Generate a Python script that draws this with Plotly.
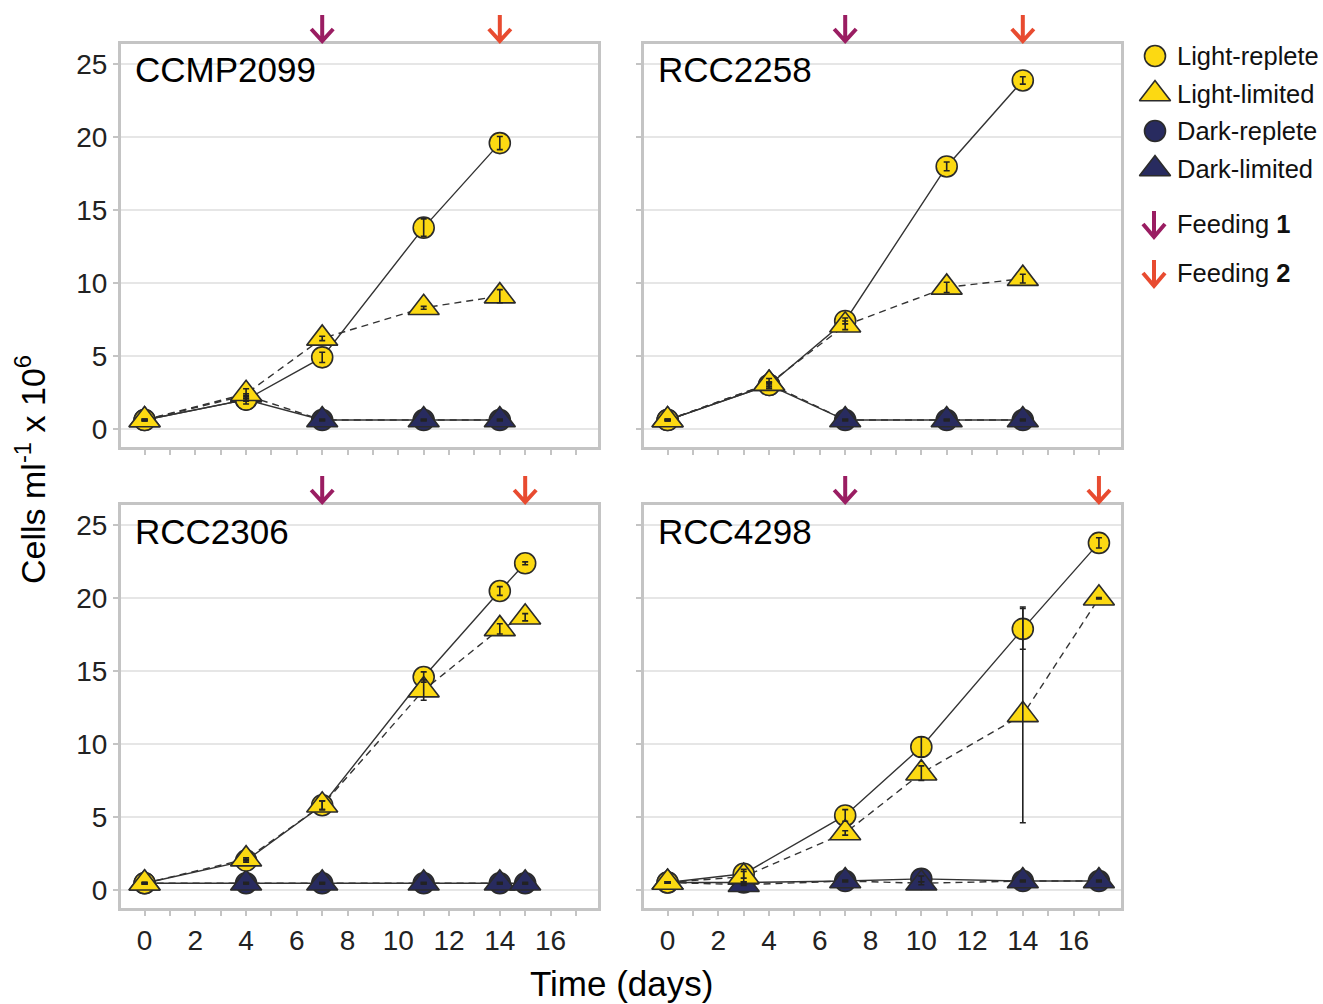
import plotly.graph_objects as go

W, H = 1323, 1004

# ---------------- data ----------------
panel_names = ["CCMP2099", "RCC2258", "RCC2306", "RCC4298"]

days_ccmp2099 = [0, 4, 7, 11, 14]
lr_ccmp2099 = [0.6, 2.0, 4.9, 13.8, 19.6]
lr_err_ccmp2099 = [0.05, 0.3, 0.35, 0.6, 0.45]
ll_ccmp2099 = [0.6, 2.4, 6.2, 8.3, 9.1]
ll_err_ccmp2099 = [0.05, 0.35, 0.15, 0.1, 0.45]
dr_ccmp2099 = [0.6, 2.0, 0.6, 0.6, 0.6]
dr_err_ccmp2099 = [0.05, 0.1, 0.05, 0.05, 0.05]
dl_ccmp2099 = [0.6, 2.3, 0.6, 0.6, 0.6]
dl_err_ccmp2099 = [0.05, 0.1, 0.05, 0.05, 0.05]

days_rcc2258 = [0, 4, 7, 11, 14]
lr_rcc2258 = [0.6, 3.0, 7.4, 18.0, 23.9]
lr_err_rcc2258 = [0.05, 0.2, 0.2, 0.3, 0.25]
ll_rcc2258 = [0.6, 3.1, 7.1, 9.7, 10.3]
ll_err_rcc2258 = [0.05, 0.35, 0.3, 0.35, 0.3]
dr_rcc2258 = [0.6, 3.0, 0.6, 0.6, 0.6]
dr_err_rcc2258 = [0.05, 0.1, 0.05, 0.05, 0.05]
dl_rcc2258 = [0.6, 3.1, 0.6, 0.6, 0.6]
dl_err_rcc2258 = [0.05, 0.1, 0.05, 0.05, 0.05]

days_rcc2306 = [0, 4, 7, 11, 14, 15]
lr_rcc2306 = [0.45, 2.0, 5.8, 14.6, 20.5, 22.4]
lr_err_rcc2306 = [0.05, 0.1, 0.3, 0.35, 0.3, 0.1]
ll_rcc2306 = [0.45, 2.1, 5.8, 13.7, 17.9, 18.7]
ll_err_rcc2306 = [0.05, 0.1, 0.3, 0.7, 0.35, 0.25]
dr_rcc2306 = [0.45, 0.45, 0.45, 0.45, 0.45, 0.45]
dr_err_rcc2306 = [0.05, 0.05, 0.05, 0.05, 0.05, 0.05]
dl_rcc2306 = [0.45, 0.45, 0.45, 0.45, 0.45, 0.45]
dl_err_rcc2306 = [0.05, 0.05, 0.05, 0.05, 0.05, 0.05]

days_rcc4298 = [0, 3, 7, 10, 14, 17]
lr_rcc4298 = [0.5, 1.1, 5.1, 9.8, 17.9, 23.8]
lr_err_rcc4298 = [0.05, 0.3, 0.4, 0.7, 1.4, 0.35]
ll_rcc4298 = [0.5, 0.9, 3.9, 8.0, 12.0, 20.0]
ll_err_rcc4298 = [0.05, 0.35, 0.15, 0.5, 7.4, 0.05]
dr_rcc4298 = [0.5, 0.5, 0.6, 0.75, 0.6, 0.6]
dr_err_rcc4298 = [0.05, 0.05, 0.05, 0.2, 0.05, 0.05]
dl_rcc4298 = [0.5, 0.35, 0.6, 0.45, 0.6, 0.6]
dl_err_rcc4298 = [0.05, 0.05, 0.05, 0.1, 0.05, 0.05]

feeding1_days = [7, 7, 7, 7]
feeding2_days = [14, 14, 15, 17]

x_tick_vals = [0, 2, 4, 6, 8, 10, 12, 14, 16]
y_tick_vals = [0, 5, 10, 15, 20, 25]

series_names = ["Dark-replete", "Dark-limited", "Light-replete", "Light-limited"]
legend_order = ["Light-replete", "Light-limited", "Dark-replete", "Dark-limited"]

# ---------------- styles ----------------
YELLOW = "#FCD912"
NAVY = "#282B5F"
PURPLE = "#9A1D62"
RED = "#E84B30"
EDGE = "#2b2b2b"
FONT = "Liberation Sans, Arial, sans-serif"

style = {
    "Light-replete": dict(color=YELLOW, symbol="circle", size=21, dash="solid"),
    "Light-limited": dict(color=YELLOW, symbol="triangle-up", size=27, dash="7px,5px"),
    "Dark-replete": dict(color=NAVY, symbol="circle", size=21, dash="solid"),
    "Dark-limited": dict(color=NAVY, symbol="triangle-up", size=27, dash="7px,5px"),
}

panel_data = [
    dict(days=days_ccmp2099, vals={"Light-replete": (lr_ccmp2099, lr_err_ccmp2099),
                                   "Light-limited": (ll_ccmp2099, ll_err_ccmp2099),
                                   "Dark-replete": (dr_ccmp2099, dr_err_ccmp2099),
                                   "Dark-limited": (dl_ccmp2099, dl_err_ccmp2099)}),
    dict(days=days_rcc2258, vals={"Light-replete": (lr_rcc2258, lr_err_rcc2258),
                                  "Light-limited": (ll_rcc2258, ll_err_rcc2258),
                                  "Dark-replete": (dr_rcc2258, dr_err_rcc2258),
                                  "Dark-limited": (dl_rcc2258, dl_err_rcc2258)}),
    dict(days=days_rcc2306, vals={"Light-replete": (lr_rcc2306, lr_err_rcc2306),
                                  "Light-limited": (ll_rcc2306, ll_err_rcc2306),
                                  "Dark-replete": (dr_rcc2306, dr_err_rcc2306),
                                  "Dark-limited": (dl_rcc2306, dl_err_rcc2306)}),
    dict(days=days_rcc4298, vals={"Light-replete": (lr_rcc4298, lr_err_rcc4298),
                                  "Light-limited": (ll_rcc4298, ll_err_rcc4298),
                                  "Dark-replete": (dr_rcc4298, dr_err_rcc4298),
                                  "Dark-limited": (dl_rcc4298, dl_err_rcc4298)}),
]

# panel frames in pixels: left, right, top, bottom
panel_box = [(121, 598, 44, 447), (644, 1121, 44, 447),
             (121, 598, 505, 908), (644, 1121, 505, 908)]

fig = go.Figure()
layout = dict(
    width=W, height=H, margin=dict(l=0, r=0, t=0, b=0),
    paper_bgcolor="white", plot_bgcolor="white", showlegend=False,
    font=dict(family=FONT, color="#222"),
)
annotations = []
shapes = []

for i, pdata in enumerate(panel_data):
    sfx = "" if i == 0 else str(i + 1)
    xa, ya = "x" + sfx, "y" + sfx
    l, r, t, b = panel_box[i]
    layout["xaxis" + sfx] = dict(
        domain=[l / W, r / W], anchor=ya, range=[-0.93, 17.87],
        tickvals=x_tick_vals, ticks="outside", ticklen=5,
        tickwidth=2, tickcolor="#c4c4c4", showticklabels=(i >= 2),
        minor=dict(dtick=1, tick0=0, ticks="outside", ticklen=5, tickwidth=2,
                   tickcolor="#c4c4c4", showgrid=False),
        tickfont=dict(size=28, color="#222"), showgrid=False, zeroline=False,
        showline=True, linecolor="#c4c4c4", linewidth=3, mirror=True, fixedrange=True,
    )
    layout["yaxis" + sfx] = dict(
        domain=[1 - b / H, 1 - t / H], anchor=xa, range=[-1.25, 26.4],
        tickvals=y_tick_vals, ticks="outside", ticklen=5, tickwidth=2,
        tickcolor="#c4c4c4", showticklabels=(i % 2 == 0),
        tickfont=dict(size=28, color="#222"), showgrid=True, gridcolor="#e6e6e6",
        gridwidth=2, zeroline=False, showline=True, linecolor="#c4c4c4",
        linewidth=3, mirror=True, fixedrange=True,
    )
    days = pdata["days"]
    # lines first
    for s in series_names:
        vals, _ = pdata["vals"][s]
        fig.add_trace(go.Scatter(
            x=days, y=vals, mode="lines", xaxis=xa, yaxis=ya, hoverinfo="skip",
            line=dict(color="#333333", width=1.4, dash=style[s]["dash"]),
        ))
    # markers
    for s in series_names:
        vals, _ = pdata["vals"][s]
        st = style[s]
        fig.add_trace(go.Scatter(
            x=days, y=vals, mode="markers", xaxis=xa, yaxis=ya, name=s,
            marker=dict(color=st["color"], symbol=st["symbol"], size=st["size"],
                        line=dict(color=EDGE, width=1.6)),
        ))
    # error bars on top
    for s in series_names:
        vals, err = pdata["vals"][s]
        fig.add_trace(go.Scatter(
            x=days, y=vals, mode="markers", xaxis=xa, yaxis=ya, hoverinfo="skip",
            marker=dict(color="rgba(0,0,0,0)", size=2),
            error_y=dict(type="data", array=err, visible=True, color="#222222",
                         thickness=1.6, width=3),
        ))
    # panel label
    annotations.append(dict(
        text=panel_names[i], xref=xa + " domain", yref=ya + " domain",
        x=12 / (r - l), y=1 - 26 / (b - t), xanchor="left",
        yanchor="middle", showarrow=False, font=dict(size=35, color="black", family=FONT),
    ))
    # feeding arrows
    for fd, col in ((feeding1_days[i], PURPLE), (feeding2_days[i], RED)):
        shapes.append(dict(
            type="path", xref=xa, yref=ya + " domain", xsizemode="pixel",
            ysizemode="pixel", xanchor=fd, yanchor=1,
            path="M0,29 L0,4 M-11,15 L0,3 L11,15",
            line=dict(color=col, width=4),
        ))

# ---------------- manual legend ----------------
layout["xaxis5"] = dict(domain=[1130 / W, 1], range=[1130, 1323], visible=False,
                        anchor="y5", fixedrange=True)
layout["yaxis5"] = dict(domain=[1 - 300 / H, 1 - 30 / H], range=[300, 30],
                        visible=False, anchor="x5", fixedrange=True)
legend_rows = [56, 94, 131, 169]
for s, yy in zip(legend_order, legend_rows):
    st = style[s]
    fig.add_trace(go.Scatter(
        x=[1155], y=[yy], mode="markers", xaxis="x5", yaxis="y5", hoverinfo="skip",
        marker=dict(color=st["color"], symbol=st["symbol"], size=st["size"],
                    line=dict(color=EDGE, width=1.6)),
    ))
    annotations.append(dict(text=s, xref="x5", yref="y5", x=1175, y=yy,
                            xanchor="left", yanchor="middle", showarrow=False,
                            font=dict(size=25.5, color="#111", family=FONT)))
for label, col, yy in (("Feeding <b>1</b>", PURPLE, 224), ("Feeding <b>2</b>", RED, 273)):
    shapes.append(dict(type="path", xref="x5", yref="y5",
                       path=f"M1154,{yy-13} L1154,{yy+12} M1143,{yy} L1154,{yy+13} L1165,{yy}",
                       line=dict(color=col, width=4)))
    annotations.append(dict(text=label, xref="x5", yref="y5", x=1175, y=yy,
                            xanchor="left", yanchor="middle", showarrow=False,
                            font=dict(size=25.5, color="#111", family=FONT)))

# axis titles
annotations.append(dict(text="Time (days)", xref="paper", yref="paper", x=621 / W,
                        y=1 - 983 / H, xanchor="center", yanchor="middle",
                        showarrow=False, font=dict(size=35, color="black", family=FONT)))
annotations.append(dict(text="Cells ml<sup>-1</sup> x 10<sup>6</sup>", xref="paper",
                        yref="paper", x=30 / W, y=1 - 470 / H, xanchor="center",
                        yanchor="middle", textangle=-90, showarrow=False,
                        font=dict(size=34, color="black", family=FONT)))

layout["annotations"] = annotations
layout["shapes"] = shapes
fig.update_layout(**layout)
fig.write_html("out.html")
